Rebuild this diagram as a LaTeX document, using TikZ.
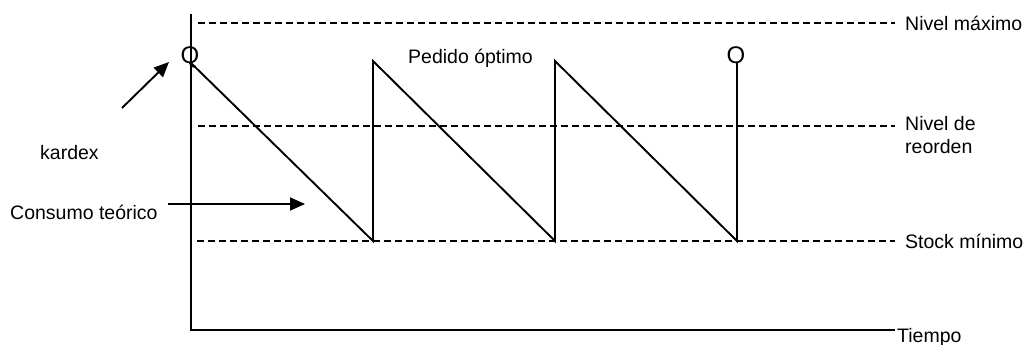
\documentclass[tikz,border=0pt]{standalone}
\usepackage{fontspec}
\setmainfont{Liberation Sans}
\usetikzlibrary{arrows.meta}
\begin{document}
\begin{tikzpicture}[x=1pt,y=-1pt,
  lbl/.style={inner sep=0pt,font=\fontsize{19.5}{23}\selectfont},
  qmark/.style={inner sep=0pt,font=\fontsize{24}{28}\selectfont},
  solidline/.style={line width=1.9pt},
  dashline/.style={line width=2.1pt,dash pattern=on 7pt off 4pt},
  arr/.style={line width=1.9pt,-{Triangle[length=15pt,width=13pt]}}]
\useasboundingbox (0,0) rectangle (1031,345);
% axes
\coordinate (ytop) at (191,14);
\coordinate (orig) at (191,331);
\coordinate (xbeg) at (191,330);
\coordinate (xend) at (895,330);
\draw[solidline] (ytop) -- (orig);
\draw[solidline] (xbeg) -- (xend);
\coordinate (th0) at (735,330); \coordinate (th1) at (760,330);
\draw[line width=2.8pt] (th0) -- (th1);
% dashed levels
\coordinate (max0) at (198,23);   \coordinate (max1) at (895,23);
\coordinate (ro0) at (198,126);   \coordinate (ro1) at (895,126);
\coordinate (sm0) at (197,241);   \coordinate (sm1) at (895,241);
\draw[dashline] (max0) -- (max1);
\draw[dashline] (ro0) -- (ro1);
\draw[dashline] (sm0) -- (sm1);
% labels right
\node[lbl,anchor=west] (lmax) at (905,23) {Nivel máximo};
\node[lbl,anchor=north west,align=left] (lro) at (905,116) {Nivel de\\reorden};
\node[lbl,anchor=west] (lsm) at (905,241) {Stock mínimo};
\node[lbl,anchor=base west] (ltiempo) at (897,342) {Tiempo};
% sawtooth
\coordinate (s0) at (191,63);
\coordinate (b1) at (373,241); \coordinate (t1) at (373,61);
\coordinate (b2) at (555,241); \coordinate (t2) at (555,61);
\coordinate (b3) at (737,241); \coordinate (t3) at (737,62);
\draw[solidline,line join=miter] (s0) -- (b1) -- (t1) -- (b2) -- (t2) -- (b3) -- (t3);
% Q and O marks
\node[qmark,anchor=base] (Q) at (190,64) {Q};
\node[qmark,anchor=base] (O) at (736,64) {O};
\node[lbl,anchor=west] (ped) at (408,58) {Pedido óptimo};
% left annotations
\node[lbl,anchor=west] (kardex) at (40,153) {kardex};
\coordinate (ka0) at (122,108);
\coordinate (ka1) at (169,62);
\draw[arr] (ka0) -- (ka1);
\node[lbl,anchor=west] (cons) at (10,212) {Consumo teórico};
\coordinate (ca0) at (168,204);
\coordinate (ca1) at (305,204);
\draw[arr] (ca0) -- (ca1);
\end{tikzpicture}
\end{document}
